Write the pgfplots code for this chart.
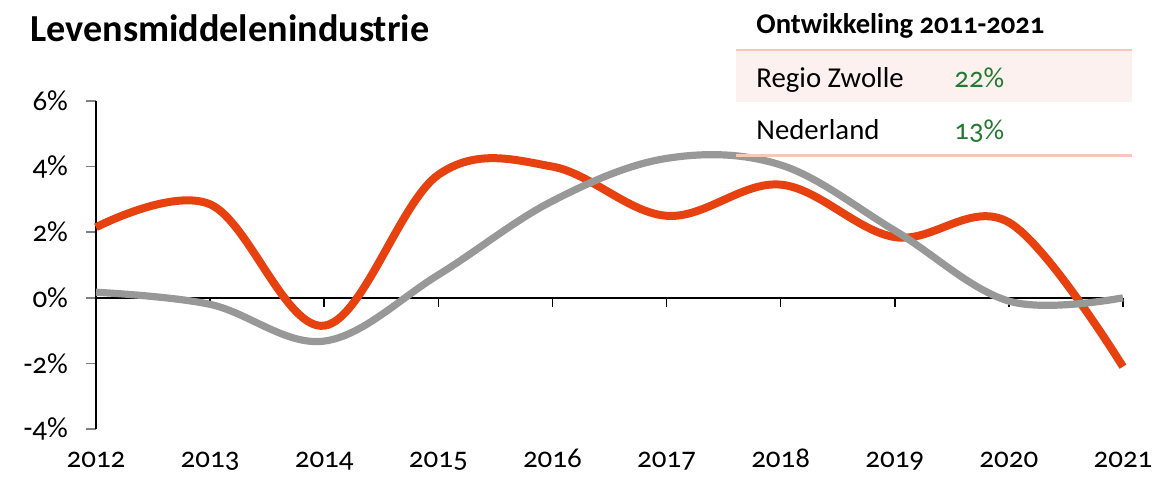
\documentclass[border=0pt]{standalone}
\usepackage{fontspec}
\setmainfont{Carlito}[Numbers=OldStyle]
\usepackage{pgfplots}
\pgfplotsset{compat=1.18}
\definecolor{zred}{RGB}{230,65,15}
\definecolor{zgray}{RGB}{152,152,152}
\definecolor{zgreen}{RGB}{35,122,50}
\definecolor{zpink}{RGB}{252,241,238}
\definecolor{zrule}{RGB}{246,200,188}
\begin{document}
\begin{tikzpicture}
\useasboundingbox (0,0) rectangle (579.5pt,238pt);
\begin{axis}[
  at={(48pt,23.5pt)}, anchor=south west,
  scale only axis, width=513.5pt, height=164pt,
  xmin=0, xmax=9, ymin=-4, ymax=6,
  axis y line=left, axis x line=bottom,
  x axis line style={draw=none},
  y axis line style={-, line width=0.8pt},
  xtick={0,...,9},
  xticklabels={2012,2013,2014,2015,2016,2017,2018,2019,2020,2021},
  ytick={-4,-2,0,2,4,6},
  yticklabels={-4\%,-2\%,0\%,2\%,4\%,6\%},
  xtick style={draw=none},
  ytick style={line width=0.8pt},
  tick align=outside, major tick length=5pt,
  tick label style={font=\fontsize{14.5}{16}\selectfont},
  yticklabel style={xshift=-5.5pt},
  xticklabel style={yshift=-4pt, text height=6.8pt, text depth=0pt},
  clip=false,
]
\draw[line width=0.8pt] (axis cs:0,0) -- (axis cs:9,0);
\pgfplotsinvokeforeach{0,...,9}{\draw[line width=0.8pt] (axis cs:#1,0) -- ([yshift=-4.5pt]axis cs:#1,0);}
\addplot[zred, line width=4pt, smooth, tension=0.6] coordinates {
 (0,2.15) (1,2.85) (2,-0.85) (3,3.75) (4,4.0) (5,2.5) (6,3.45) (7,1.85) (8,2.3) (9,-2.1)};
\addplot[zgray, line width=3.6pt, smooth, tension=0.6] coordinates {
 (0,0.17) (1,-0.2) (2,-1.32) (3,0.7) (4,2.95) (5,4.25) (6,4.05) (7,2.05) (8,-0.1) (9,0.0)};
\end{axis}
% title
\node[anchor=base west, inner sep=0pt, font=\fontsize{19.1}{22}\selectfont\bfseries] at (15pt,217.15pt) {Levensmiddelenindustrie};
% table
\fill[zpink] (368pt,187pt) rectangle (565.8pt,212.5pt);
\draw[zrule, line width=1.1pt] (368pt,213pt) -- (565.8pt,213pt);
\draw[zrule, line width=1.1pt] (368pt,160.2pt) -- (565.8pt,160.2pt);
\node[anchor=base west, inner sep=0pt, font=\fontsize{14.3}{16}\selectfont\bfseries] at (378pt,221.3pt) {Ontwikkeling 2011-2021};
\node[anchor=base west, inner sep=0pt, font=\fontsize{14.4}{16}\selectfont] at (378pt,194.3pt) {Regio Zwolle};
\node[anchor=base west, inner sep=0pt, font=\fontsize{14.4}{16}\selectfont, text=zgreen] at (477pt,194.3pt) {22\%};
\node[anchor=base west, inner sep=0pt, font=\fontsize{14.4}{16}\selectfont] at (378pt,168.3pt) {Nederland};
\node[anchor=base west, inner sep=0pt, font=\fontsize{14.4}{16}\selectfont, text=zgreen] at (477pt,168.3pt) {13\%};
\end{tikzpicture}
\end{document}
